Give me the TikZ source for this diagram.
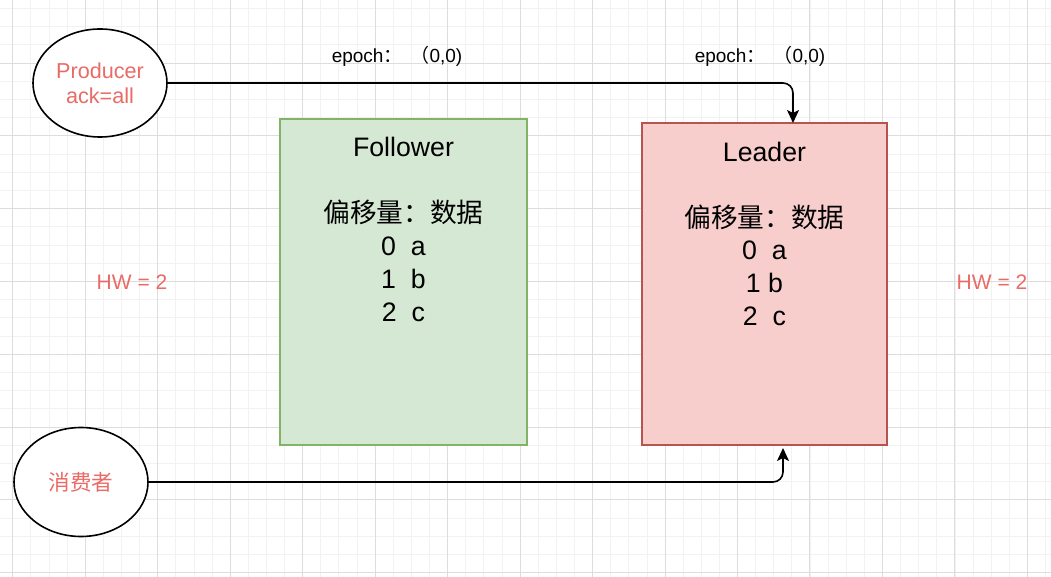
\documentclass[tikz,border=0pt]{standalone}
\usepackage{fontspec}
\setmainfont{Liberation Sans}
\newfontfamily\cjk{Noto Sans CJK SC}
\usetikzlibrary{arrows.meta,shapes.geometric}
\definecolor{txtred}{HTML}{EA6B66}
\definecolor{fgreen}{HTML}{D5E8D4}
\definecolor{sgreen}{HTML}{82B366}
\definecolor{fred}{HTML}{F8CECC}
\definecolor{sred}{HTML}{B85450}
\definecolor{gridminor}{HTML}{F2F2F2}
\definecolor{gridmajor}{HTML}{DDDDDD}
\tikzset{
  ell/.style={draw=black, line width=1.6pt, ellipse, fill=white, inner sep=0pt},
  elltext/.style={text=txtred, font=\fontsize{21.6}{25}\selectfont, align=center, inner sep=0pt},
  fbox/.style={draw=sgreen, fill=fgreen, line width=1.6pt, minimum width=247pt, minimum height=326pt, inner sep=0pt},
  lbox/.style={draw=sred, fill=fred, line width=1.6pt, minimum width=245pt, minimum height=322pt, inner sep=0pt},
  boxtext/.style={font=\fontsize{26.7}{33}\selectfont, align=center, inner sep=0pt, anchor=north},
  hwtext/.style={text=txtred, font=\fontsize{21}{25}\selectfont, inner sep=0pt},
  epochtext/.style={font=\fontsize{19}{22}\selectfont, inner sep=0pt},
  conn/.style={draw=black, line width=1.6pt, rounded corners=10pt, -{Stealth[length=13pt,width=12pt,inset=3pt]}},
}
\begin{document}
\begin{tikzpicture}[x=1pt,y=-1pt]
\useasboundingbox (0,0) rectangle (1051,577);
\fill[white] (0,0) rectangle (1051,577);
% grid
\foreach \i in {0,...,57} {
  \draw[gridminor, line width=0.8pt] ({12.7+\i*18.12},0) -- ({12.7+\i*18.12},577);
}
\foreach \j in {-3,...,28} {
  \draw[gridminor, line width=0.8pt] (0,{63+\j*18.2}) -- (1051,{63+\j*18.2});
}
\foreach \i in {0,...,14} {
  \draw[gridmajor, line width=0.8pt] ({12.7+\i*72.47},0) -- ({12.7+\i*72.47},577);
}
\foreach \j in {-1,...,7} {
  \draw[gridmajor, line width=0.8pt] (0,{63+\j*72.8}) -- (1051,{63+\j*72.8});
}
% boxes
\node[fbox] (follower) at (403.5,282) {};
\node[lbox] (leader) at (764.5,284) {};
\node[boxtext] (ftext) at (403.5,137) {Follower\\[33pt]{\cjk 偏移量：数据}\\0\ \ a\\1\ \ b\\2\ \ c};
\node[boxtext] (ltext) at (764.5,142) {Leader\\[33pt]{\cjk 偏移量：数据}\\[-1.5pt]0\ \ a\\1\ b\\2\ \ c};
% ellipses
\node[ell, minimum width=134pt, minimum height=108pt] (producer) at (100,83) {};
\node[elltext] at (producer.center) {Producer\\ack=all};
\node[ell, minimum width=134pt, minimum height=109pt] (consumer) at (81,482) {};
\node[elltext] at (consumer.center) {\cjk 消费者};
% labels
\node[hwtext] (hw1) at (132,282) {HW = 2};
\node[hwtext] (hw2) at (992,282) {HW = 2};
\node[epochtext] (ep1) at (397,56) {epoch{\cjk ：}\hspace{8pt}{\cjk （}0,0)};
\node[epochtext] (ep2) at (760,56) {epoch{\cjk ：}\hspace{8pt}{\cjk （}0,0)};
% connectors
\coordinate (ltop) at (793,123);
\coordinate (lbot) at (783,448);
\draw[conn] (producer.east) -| (ltop);
\draw[conn] (consumer.east) -| (lbot);
\end{tikzpicture}
\end{document}
